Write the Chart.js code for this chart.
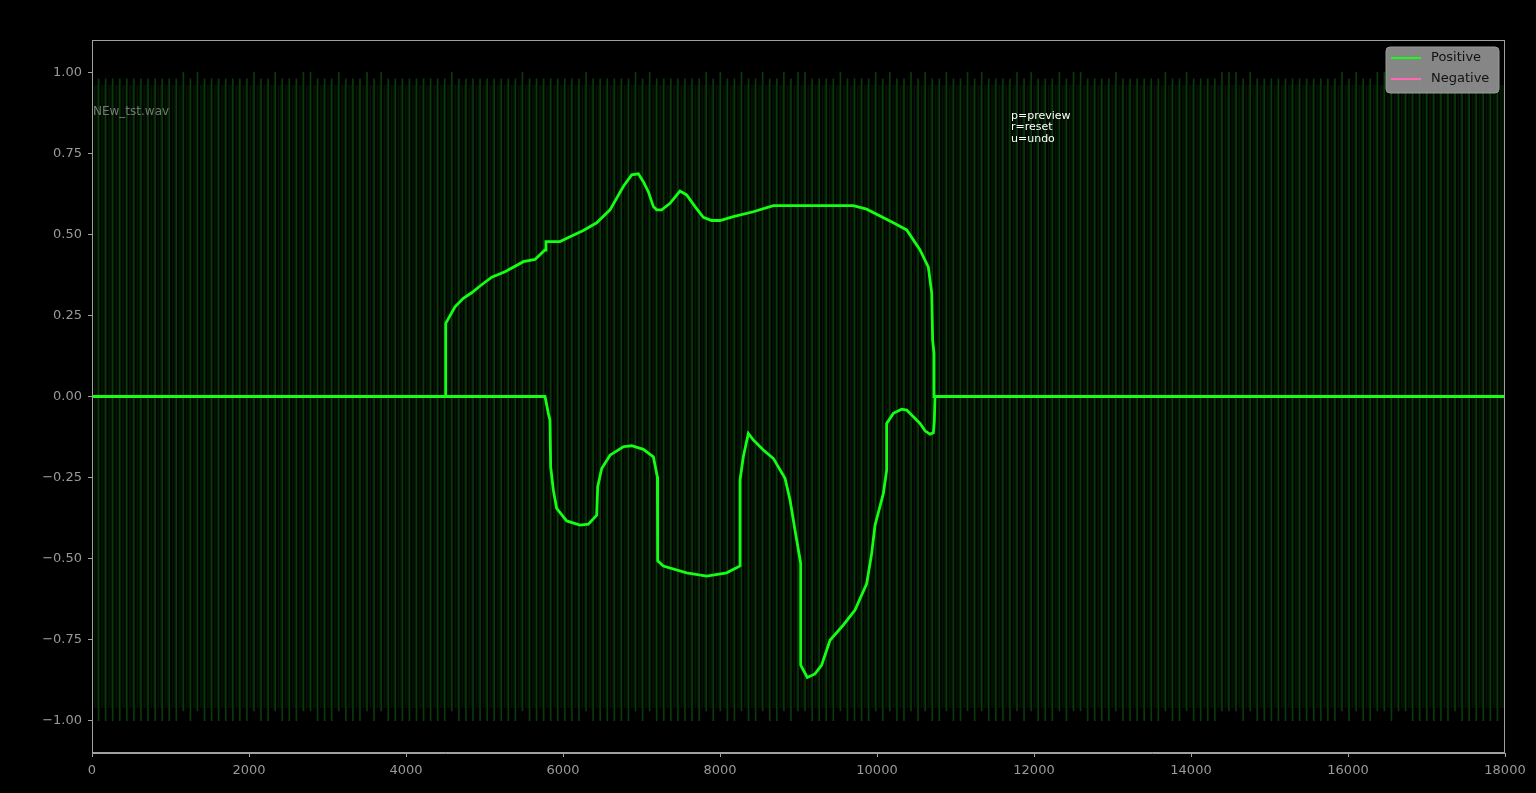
<!DOCTYPE html>
<html>
<head>
<meta charset="utf-8">
<script src="https://cdn.jsdelivr.net/npm/chart.js@4.4.1/dist/chart.umd.min.js"></script>
<style>
  html, body { margin: 0; background: #000; }
</style>
</head>
<body>
<canvas id="chartWave" width="1536" height="793"></canvas>
<script>
// axis ticks
const xTicks = [0, 2000, 4000, 6000, 8000, 10000, 12000, 14000, 16000, 18000];
const yTicks = [-1, -0.75, -0.5, -0.25, 0, 0.25, 0.5, 0.75, 1];

// upper envelope (Positive)
const posX = [0, 4500, 4506, 4624, 4730, 4836, 4943, 5092, 5261, 5495, 5643, 5771, 5783, 5962, 6089,
  6259, 6429, 6599, 6768, 6875, 6960, 7023, 7087, 7151, 7193, 7257, 7363, 7490, 7575, 7682, 7788,
  7894, 8000, 8170, 8424, 8679, 9698, 9868, 10208, 10378, 10548, 10654, 10697, 10709, 10726, 10726, 18000];
const posY = [0, 0, 0.226, 0.277, 0.303, 0.32, 0.341, 0.368, 0.385, 0.416, 0.423, 0.452, 0.478, 0.478, 0.493,
  0.512, 0.536, 0.576, 0.648, 0.684, 0.687, 0.663, 0.632, 0.586, 0.576, 0.576, 0.596, 0.634, 0.622, 0.586, 0.553,
  0.543, 0.543, 0.555, 0.57, 0.589, 0.589, 0.578, 0.536, 0.514, 0.452, 0.399, 0.319, 0.174, 0.133, 0, 0];

// lower envelope (Negative)
const negX = [0, 5771, 5813, 5834, 5843, 5877, 5919, 6047, 6217, 6323, 6429, 6442, 6493, 6599, 6768,
  6875, 7023, 7151, 7202, 7206, 7278, 7575, 7830, 8085, 8255, 8255, 8297, 8361, 8424, 8552, 8679,
  8828, 8892, 8955, 9028, 9028, 9112, 9210, 9295, 9401, 9571, 9720, 9869, 9932, 9975, 10081, 10123,
  10123, 10208, 10315, 10378, 10548, 10612, 10675, 10718, 10730, 10739, 18000];
const negY = [0, 0, -0.052, -0.073, -0.217, -0.289, -0.345, -0.384, -0.397, -0.394, -0.366, -0.278, -0.222, -0.181, -0.155,
  -0.152, -0.163, -0.186, -0.248, -0.507, -0.523, -0.544, -0.554, -0.544, -0.523, -0.258, -0.186, -0.114, -0.134, -0.165, -0.191,
  -0.252, -0.319, -0.412, -0.515, -0.829, -0.867, -0.856, -0.829, -0.752, -0.705, -0.659, -0.577, -0.484, -0.397, -0.299, -0.227,
  -0.083, -0.052, -0.039, -0.042, -0.083, -0.106, -0.116, -0.112, -0.078, 0, 0];

// background waveform: one spike every 90 samples, some spikes sit a bit higher
const spikeStep = 90;
const spikeCount = 199;
const raisedSpikes = [13, 15, 23, 26, 30, 31, 35, 39, 41, 51, 61, 70, 77, 79, 87, 89, 92, 95, 98, 100, 101,
  106, 111, 113, 116, 118, 121, 124, 126, 131, 133, 137, 139, 140, 145, 152, 155, 160, 161, 162, 164,
  177, 179, 182, 183, 185, 186, 193];
const spikeLow = [-1.0, -0.97];
const spikeHigh = [0.98, 1.0];
// fainter samples between the spikes
const bodyStep = 30;
const bodyRange = [-0.96, 0.96];

const spikes = [];
for (let i = 1; i <= spikeCount; i++) {
    const r = raisedSpikes.includes(i) ? 1 : 0;
    spikes.push({ x: i * spikeStep, y: [spikeLow[r], spikeHigh[r]] });
}
const body = [];
for (let x = bodyStep; x < 18000; x += bodyStep) {
    if (x % spikeStep) body.push({ x: x, y: bodyRange });
}
const toPts = (xs, ys) => xs.map((x, i) => ({ x: x, y: ys[i] }));

const GREEN = '#14ff14';
const PINK = '#ff69b4';

Chart.defaults.font.family = 'DejaVu Sans';

// frame, legend box and the small texts
const extras = {
    id: 'extras',
    afterDraw(chart) {
        const ctx = chart.ctx, a = chart.chartArea;
        ctx.save();
        ctx.strokeStyle = '#a0a0a0';
        ctx.lineWidth = 1;
        ctx.strokeRect(Math.round(a.left) + 0.5, Math.round(a.top) + 0.5,
            Math.round(a.right - a.left) - 1, Math.round(a.bottom - a.top) - 1);

        ctx.fillStyle = '#777';
        ctx.font = '12px "DejaVu Sans"';
        ctx.textBaseline = 'middle';
        ctx.fillText('NEw_tst.wav', a.left + 1, 112);

        ctx.fillStyle = '#fff';
        ctx.font = '11px "DejaVu Sans"';
        ['p=preview', 'r=reset', 'u=undo'].forEach((t, i) => ctx.fillText(t, 1011, 116 + i * 11.5));

        // legend
        const lx = 1386, ly = 47, lw = 113, lh = 46;
        ctx.fillStyle = 'rgba(138,138,138,0.97)';
        ctx.strokeStyle = '#9a9a9a';
        ctx.beginPath();
        ctx.roundRect(lx, ly, lw, lh, 4);
        ctx.fill();
        ctx.stroke();
        [['Positive', GREEN, 58], ['Negative', PINK, 79]].forEach(([t, c, y]) => {
            ctx.strokeStyle = c;
            ctx.lineWidth = 2;
            ctx.beginPath();
            ctx.moveTo(1391, y);
            ctx.lineTo(1421, y);
            ctx.stroke();
            ctx.fillStyle = '#111';
            ctx.font = '13px "DejaVu Sans"';
            ctx.fillText(t, 1431, y);
        });
        ctx.restore();
    }
};

new Chart(document.getElementById('chartWave'), {
    type: 'line',
    data: {
        datasets: [
            {
                label: 'Positive',
                data: toPts(posX, posY),
                borderColor: GREEN,
                borderWidth: 2.8,
                pointRadius: 0,
                tension: 0,
                order: 1
            },
            {
                label: 'Negative',
                data: toPts(negX, negY),
                borderColor: GREEN,
                borderWidth: 2.8,
                pointRadius: 0,
                tension: 0,
                order: 2
            },
            {
                type: 'bar',
                label: 'wave',
                data: spikes,
                backgroundColor: '#0a3a0a',
                barThickness: 1,
                order: 3
            },
            {
                type: 'bar',
                label: 'body',
                data: body,
                backgroundColor: '#031603',
                barThickness: 1,
                order: 4
            }
        ]
    },
    options: {
        responsive: false,
        animation: false,
        layout: { padding: { top: 40, right: 31, bottom: 0, left: 0 } },
        plugins: {
            legend: { display: false },
            tooltip: { enabled: false }
        },
        scales: {
            x: {
                type: 'linear',
                min: 0,
                max: 18000,
                offset: false,
                afterBuildTicks: s => { s.ticks = xTicks.map(v => ({ value: v })); },
                afterFit: s => { s.height = 40; },
                ticks: { color: '#999', font: { size: 13 }, padding: 6, maxRotation: 0,
                    callback: v => String(v) },
                grid: { drawOnChartArea: false, offset: false, tickLength: 4, color: '#a0a0a0' },
                border: { color: '#a0a0a0' }
            },
            y: {
                min: -1.1,
                max: 1.1,
                afterBuildTicks: s => { s.ticks = yTicks.map(v => ({ value: v })); },
                afterFit: s => { s.width = 92; },
                ticks: { color: '#999', font: { size: 13 }, padding: 6,
                    callback: v => (v < 0 ? '\u2212' : '') + Math.abs(v).toFixed(2) },
                grid: { drawOnChartArea: false, tickLength: 4, color: '#a0a0a0' },
                border: { color: '#a0a0a0' }
            }
        }
    },
    plugins: [extras]
});
</script>
</body>
</html>
